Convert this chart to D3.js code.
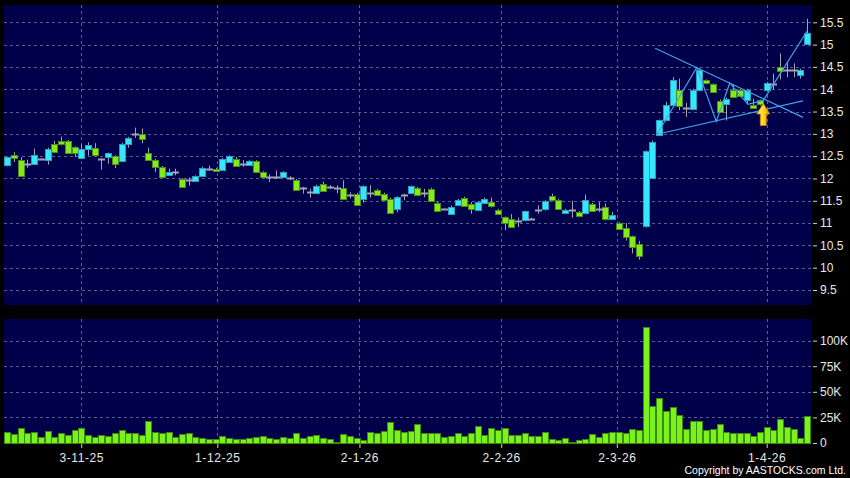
<!DOCTYPE html>
<html>
<head>
<meta charset="utf-8">
<script src="https://cdn.jsdelivr.net/npm/d3@7"></script>
<style>
  body { margin: 0; background: #000; }
  svg { display: block; }
  .axis text { fill: #e8e8e8; font-family: "Liberation Sans", Arial, sans-serif; font-size: 12px; }
  .axis line { stroke: #d0d0d0; }
  .axis path { display: none; }
</style>
</head>
<body>
<div class="chart"></div>
<script>
// daily OHLC, one entry per trading day (index 0..119)
const open  = [12.29,12.53,12.42,12.33,12.33,12.43,12.42,12.78,12.83,12.84,12.70,12.45,12.67,12.69,12.43,12.48,12.50,12.39,12.78,13.00,
               13.00,12.56,12.42,12.26,12.09,12.14,11.99,11.97,11.94,12.05,12.22,12.22,12.20,12.37,12.44,12.32,12.31,12.39,12.14,12.03,
               12.03,12.03,12.02,11.97,11.79,11.70,11.68,11.88,11.81,11.79,11.79,11.62,11.66,11.52,11.68,11.75,11.66,11.55,11.32,11.62,
               11.67,11.79,11.68,11.77,11.46,11.31,11.21,11.41,11.57,11.42,11.30,11.47,11.47,11.30,11.13,11.10,11.04,11.06,11.10,11.30,
               11.30,11.60,11.52,11.23,11.30,11.25,11.22,11.43,11.31,11.35,11.09,11.00,10.90,10.70,10.52,10.93,12.02,12.97,13.30,13.64,
               13.99,13.57,13.57,13.99,14.20,14.11,13.74,13.68,13.99,13.99,13.77,13.65,13.75,13.99,14.11,14.50,14.44,14.42,14.33,15.01];
const high  = [12.49,12.59,12.48,12.42,12.67,12.45,12.69,12.84,12.94,12.86,12.72,12.76,12.81,12.79,12.45,12.58,12.52,12.80,12.93,13.14,
               13.12,12.69,12.44,12.28,12.22,12.22,12.01,12.02,12.07,12.26,12.29,12.24,12.46,12.52,12.48,12.41,12.41,12.41,12.16,12.09,
               12.18,12.16,12.05,11.99,11.81,11.77,11.86,11.93,11.85,11.85,11.96,11.69,11.68,11.84,11.85,11.77,11.68,11.57,11.60,11.66,
               11.84,11.81,11.77,11.79,11.48,11.33,11.39,11.54,11.59,11.47,11.49,11.57,11.57,11.32,11.15,11.20,11.12,11.28,11.12,11.40,
               11.51,11.66,11.54,11.32,11.50,11.27,11.64,11.45,11.47,11.44,11.25,11.02,11.00,10.72,10.60,12.63,12.85,13.32,13.72,14.27,
               14.24,13.69,14.01,14.48,14.22,14.13,13.77,13.81,14.11,14.01,14.01,13.79,13.77,14.16,14.35,14.80,14.61,14.58,14.46,15.58];
const low   = [12.27,12.37,12.05,12.24,12.33,12.41,12.31,12.57,12.74,12.55,12.48,12.43,12.51,12.51,12.20,12.33,12.23,12.37,12.69,12.91,
               12.79,12.39,12.14,12.01,12.07,12.07,11.79,11.84,11.92,12.03,12.17,12.15,12.18,12.35,12.27,12.26,12.29,12.12,12.00,11.92,
               11.99,12.01,11.96,11.73,11.66,11.57,11.66,11.71,11.76,11.67,11.53,11.55,11.39,11.46,11.57,11.62,11.51,11.21,11.24,11.51,
               11.65,11.62,11.58,11.49,11.26,11.29,11.19,11.39,11.38,11.21,11.28,11.45,11.35,11.18,10.84,10.91,10.91,11.04,11.08,11.21,
               11.28,11.50,11.30,11.21,11.12,11.13,11.20,11.26,11.25,11.06,11.07,10.84,10.61,10.32,10.18,10.90,12.00,12.95,13.28,13.62,
               13.53,13.38,13.55,13.97,14.11,13.92,13.47,13.30,13.82,13.84,13.68,13.57,13.63,13.97,13.99,14.22,14.27,14.27,14.24,15.00];
const close = [12.47,12.47,12.06,12.33,12.53,12.43,12.67,12.59,12.76,12.57,12.57,12.66,12.76,12.53,12.43,12.56,12.31,12.78,12.91,13.00,
               12.89,12.41,12.26,12.03,12.15,12.14,11.81,11.97,12.05,12.24,12.22,12.17,12.44,12.50,12.29,12.32,12.39,12.14,12.02,12.03,
               12.03,12.14,12.02,11.75,11.79,11.70,11.84,11.73,11.81,11.79,11.55,11.62,11.41,11.82,11.68,11.64,11.53,11.23,11.58,11.62,
               11.82,11.64,11.68,11.51,11.28,11.31,11.37,11.52,11.40,11.30,11.47,11.55,11.37,11.20,10.99,10.93,11.04,11.26,11.10,11.30,
               11.49,11.52,11.32,11.30,11.30,11.15,11.52,11.28,11.31,11.08,11.17,10.86,10.70,10.46,10.25,12.61,12.82,13.30,13.64,14.20,
               13.64,13.57,13.99,14.44,14.13,13.94,13.49,13.79,13.84,13.86,13.99,13.59,13.65,14.14,14.11,14.42,14.44,14.42,14.44,15.26];
// volume in thousands
const volume = [10.6,8.7,14.4,9.9,10.3,6.1,11.9,6.1,9.3,7.4,12.5,14.4,7.4,6.1,8.0,6.7,9.3,12.5,9.3,9.6,
                8.0,21.2,10.9,9.3,10.3,5.4,8.7,9.6,5.4,4.5,3.8,3.5,7.1,5.1,3.8,3.8,5.1,6.1,6.4,4.5,
                3.8,5.4,4.8,9.3,4.8,6.4,7.4,4.8,3.8,1.0,8.7,6.7,4.5,3.2,10.6,9.9,11.9,20.8,13.1,10.9,
                11.9,18.9,9.3,9.3,9.9,5.4,7.1,9.9,6.7,9.3,16.7,7.7,15.1,12.8,14.4,7.4,8.0,9.6,6.7,6.7,
                10.3,3.8,2.9,4.8,1.3,2.9,4.2,8.7,5.4,9.3,10.6,10.3,9.3,13.5,12.5,113.5,36.2,44.2,31.4,35.3,
                27.6,13.5,21.2,21.2,13.1,14.1,18.6,11.2,9.3,9.3,9.6,7.1,10.3,15.7,12.8,23.1,16.0,13.5,5.1,26.0];

const dateTickIdx = [11, 31.25, 52.4, 73.5, 90.7, 113];
const dateLabels  = ["3-11-25", "1-12-25", "2-1-26", "2-2-26", "2-3-26", "1-4-26"];
const priceTicks  = [9.5, 10, 10.5, 11, 11.5, 12, 12.5, 13, 13.5, 14, 14.5, 15, 15.5];
const volTicks    = [0, 25, 50, 75, 100];

// drawn trend lines: [index, price]
const upperLine = [[96.4, 14.92], [118.4, 13.37]];
const lowerLine = [[96.7, 12.99], [118.4, 13.74]];
const zigzag    = [[96.7, 12.99], [102.6, 14.49], [105.5, 13.28], [107.5, 14.14], [110.2, 13.66], [112.5, 13.75], [119, 15.30]];
const arrowAt   = [112.5, 13.68];

const W = 850, H = 478;
const pricePanel = { left: 4, right: 812, top: 5, bottom: 305 };
const volPanel   = { left: 4, right: 812, top: 319, bottom: 444 };

const x  = d3.scaleLinear().domain([0, 119]).range([7.3, 807]);
const y  = d3.scaleLinear().domain([9.5, 15.5]).range([290, 22.3]);
const yv = d3.scaleLinear().domain([0, 100]).range([443, 340.6]);

const svg = d3.select(".chart").append("svg")
    .attr("width", W).attr("height", H);

svg.append("rect").attr("width", W).attr("height", H).attr("fill", "#000");

[pricePanel, volPanel].forEach(p => {
  svg.append("rect")
      .attr("x", p.left).attr("y", p.top)
      .attr("width", p.right - p.left).attr("height", p.bottom - p.top)
      .attr("fill", "#00004a");
});

const gridColor = "#5c5c94";
// horizontal grid
svg.append("g").selectAll("line")
  .data(priceTicks)
  .join("line")
    .attr("x1", pricePanel.left).attr("x2", pricePanel.right)
    .attr("y1", d => Math.round(y(d)) + 0.5).attr("y2", d => Math.round(y(d)) + 0.5)
    .attr("stroke", gridColor).attr("stroke-dasharray", "3,3");
svg.append("g").selectAll("line")
  .data(volTicks.slice(1))
  .join("line")
    .attr("x1", volPanel.left).attr("x2", volPanel.right)
    .attr("y1", d => Math.round(yv(d)) + 0.5).attr("y2", d => Math.round(yv(d)) + 0.5)
    .attr("stroke", gridColor).attr("stroke-dasharray", "3,3");
// vertical grid
[pricePanel, volPanel].forEach(p => {
  svg.append("g").selectAll("line")
    .data(dateTickIdx)
    .join("line")
      .attr("x1", d => Math.round(x(d)) + 0.5).attr("x2", d => Math.round(x(d)) + 0.5)
      .attr("y1", p.top).attr("y2", p.bottom)
      .attr("stroke", gridColor).attr("stroke-dasharray", "3,3");
});

// candles
const idx = d3.range(open.length);
const cx = i => Math.round(x(i));
const candles = svg.append("g");

candles.selectAll("line.wick")
  .data(idx)
  .join("line")
    .attr("class", "wick")
    .attr("x1", i => cx(i) + 0.5).attr("x2", i => cx(i) + 0.5)
    .attr("y1", i => y(high[i])).attr("y2", i => y(low[i]))
    .attr("stroke", "#a4a4b0");

candles.selectAll("rect.body")
  .data(idx.filter(i => open[i] !== close[i]))
  .join("rect")
    .attr("class", "body")
    .attr("x", i => cx(i) - 2.5)
    .attr("y", i => Math.round(y(Math.max(open[i], close[i]))) + 0.5)
    .attr("width", 6)
    .attr("height", i => Math.max(2, Math.round(Math.abs(y(open[i]) - y(close[i])))))
    .attr("fill", i => close[i] > open[i] ? "#36e6fb" : "#84ea1e")
    .attr("stroke", i => close[i] > open[i] ? "#2a9fbd" : "#4b8e14");

candles.selectAll("line.doji")
  .data(idx.filter(i => open[i] === close[i]))
  .join("line")
    .attr("class", "doji")
    .attr("x1", i => cx(i) - 3).attr("x2", i => cx(i) + 4)
    .attr("y1", i => Math.round(y(close[i])) + 0.5).attr("y2", i => Math.round(y(close[i])) + 0.5)
    .attr("stroke", "#a4a4b0").attr("stroke-width", 2);

// volume bars
svg.append("g").selectAll("rect")
  .data(idx)
  .join("rect")
    .attr("x", i => cx(i) - 2.5)
    .attr("y", i => Math.round(yv(volume[i])) + 0.5)
    .attr("width", 6)
    .attr("height", i => Math.max(1, Math.round(yv(0) - yv(volume[i]))))
    .attr("fill", "#7cf21c")
    .attr("stroke", "#3a880c");

// trend lines
const line = d3.line().x(d => x(d[0])).y(d => y(d[1]));
svg.append("g").selectAll("path")
  .data([upperLine, lowerLine, zigzag])
  .join("path")
    .attr("d", line)
    .attr("fill", "none")
    .attr("stroke", "#3ea2ea")
    .attr("stroke-width", 1.2);

// arrow
const defs = svg.append("defs");
const grad = defs.append("linearGradient").attr("id", "arrowGrad")
    .attr("x1", 0).attr("x2", 1).attr("y1", 0).attr("y2", 0);
grad.append("stop").attr("offset", "0%").attr("stop-color", "#fff27a");
grad.append("stop").attr("offset", "55%").attr("stop-color", "#ffd21e");
grad.append("stop").attr("offset", "100%").attr("stop-color", "#e89a00");
svg.append("path")
    .attr("transform", `translate(${x(arrowAt[0])},${y(arrowAt[1])})`)
    .attr("d", "M0,0 L6.5,10.5 L3,10.5 L3,22 L-3,22 L-3,10.5 L-6.5,10.5 Z")
    .attr("fill", "url(#arrowGrad)")
    .attr("stroke", "#c88400")
    .attr("stroke-width", 0.8);

// axes
svg.append("g")
    .attr("class", "axis")
    .attr("transform", `translate(${pricePanel.right + 1},0)`)
    .call(d3.axisRight(y).tickValues(priceTicks).tickSize(4).tickPadding(3)
      .tickFormat(d => d3.format("")(d)));

svg.append("g")
    .attr("class", "axis")
    .attr("transform", `translate(${volPanel.right + 1},0)`)
    .call(d3.axisRight(yv).tickValues(volTicks).tickSize(4).tickPadding(3)
      .tickFormat(d => d === 0 ? "0" : d + "K"));

svg.append("g")
    .attr("class", "axis")
    .attr("transform", `translate(0,${volPanel.bottom})`)
    .call(d3.axisBottom(x).tickValues(dateTickIdx).tickSize(4).tickPadding(5)
      .tickFormat((d, i) => dateLabels[i]))
  .selectAll("text")
    .style("letter-spacing", "0.6px");

svg.append("text")
    .attr("x", 846).attr("y", 474)
    .attr("text-anchor", "end")
    .attr("fill", "#ffffff")
    .style("font-family", "'Liberation Sans', Arial, sans-serif")
    .style("font-size", "10.5px")
    .text("Copyright by AASTOCKS.com Ltd.");
</script>
</body>
</html>
